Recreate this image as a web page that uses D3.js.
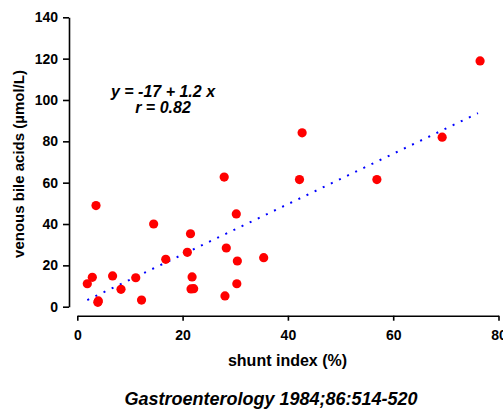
<!DOCTYPE html>
<html><head><meta charset="utf-8">
<script src="https://cdn.jsdelivr.net/npm/d3@7"></script>
<style>body{margin:0;background:#fff}svg{display:block}</style>
</head><body><svg id="c" width="503" height="410"></svg>
<script>
const shuntIndex = [1.9,2.85,3.55,3.9,4.0,6.7,8.3,11.1,12.2,14.5,16.8,20.9,21.5,21.8,21.6,22.1,28.05,28.3,27.9,30.2,30.4,30.3,35.4,42.7,42.2,56.9,69.3,76.5];
const bileAcids  = [11.1,14.2,48.9,2.1,2.8,14.9,8.4,14.0,3.2,40.0,22.9,26.3,35.3,14.4,8.6,8.7,5.2,28.4,62.7,44.9,22.1,11.1,23.7,84.1,61.5,61.5,82.0,118.9];
const fitX = [1.9, 76.1];
const fitY = [3.2, 93.6];
const xTicks = [0,20,40,60,80];
const yTicks = [0,20,40,60,80,100,120,140];
const eqLines = ["y = -17 + 1.2 x", "r = 0.82"];
const xTitle = "shunt index (%)";
const yTitle = "venous bile acids (µmol/L)";
const citation = "Gastroenterology 1984;86:514-520";

const svg = d3.select("#c");
const font = "'Liberation Sans', Arial, sans-serif";
const x = d3.scaleLinear().domain([0,80]).range([77.3,498.5]);
const y = d3.scaleLinear().domain([0,140]).range([306.7,17.3]);

const xa = svg.append("g").attr("transform","translate(0,315.7)")
  .call(d3.axisBottom(x).tickValues(xTicks).tickSize(5).tickPadding(9).tickSizeOuter(0));
const ya = svg.append("g").attr("transform","translate(69,0)")
  .call(d3.axisLeft(y).tickValues(yTicks).tickSize(6).tickPadding(5).tickSizeOuter(0));
[xa,ya].forEach(a=>{
  a.select(".domain").attr("stroke","#000").attr("stroke-width",1.6);
  a.selectAll(".tick line").attr("stroke","#000").attr("stroke-width",1.6);
  a.selectAll("text").attr("font-family",font).attr("font-weight","bold").attr("font-size",14).attr("fill","#000");
});

svg.append("line")
  .attr("x1",x(fitX[0])).attr("y1",y(fitY[0]))
  .attr("x2",x(fitX[1])).attr("y2",y(fitY[1]))
  .attr("stroke","#0000ff").attr("stroke-width",2).attr("stroke-dasharray","2,7");

svg.append("g").selectAll("circle").data(shuntIndex).join("circle")
  .attr("cx",(d)=>x(d)).attr("cy",(d,i)=>y(bileAcids[i])).attr("r",4.6).attr("fill","#ff0000");

svg.append("g").selectAll("text").data(eqLines).join("text")
  .attr("x",163).attr("y",(d,i)=>97+i*16).attr("text-anchor","middle")
  .attr("font-family",font).attr("font-weight","bold").attr("font-style","italic").attr("font-size",16)
  .text(d=>d);

svg.append("text").attr("x",287.5).attr("y",366).attr("text-anchor","middle")
  .attr("font-family",font).attr("font-weight","bold").attr("font-size",16).text(xTitle);
svg.append("text").attr("transform","translate(24,164) rotate(-90)").attr("text-anchor","middle")
  .attr("font-family",font).attr("font-weight","bold").attr("font-size",15).text(yTitle);
svg.append("text").attr("x",271).attr("y",405).attr("text-anchor","middle")
  .attr("font-family",font).attr("font-weight","bold").attr("font-style","italic").attr("font-size",18).text(citation);
</script></body></html>
